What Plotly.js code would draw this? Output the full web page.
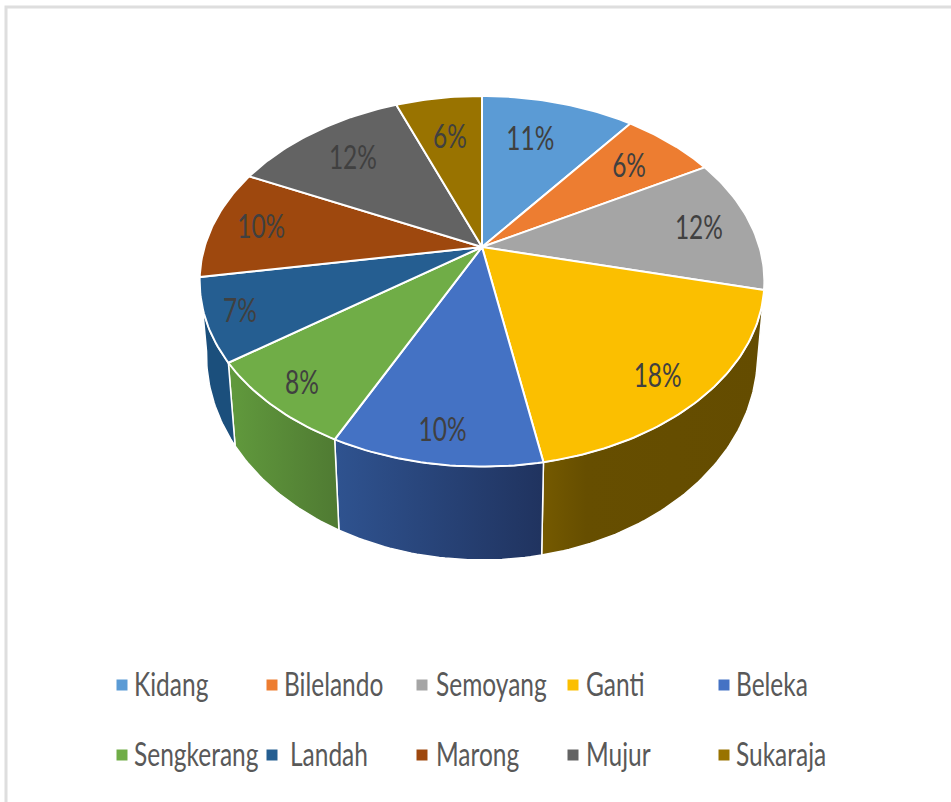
<!DOCTYPE html>
<html>
<head>
<meta charset="utf-8">
<script src="https://cdn.plot.ly/plotly-3.0.1.min.js"></script>
<style>html,body{margin:0;padding:0;background:#fff}#chart{width:951px;height:802px}</style>
</head>
<body>
<div id="chart"></div>
<script>
// Data
const categories = ["Kidang","Bilelando","Semoyang","Ganti","Beleka","Sengkerang","Landah","Marong","Mujur","Sukaraja"];
const values = [10.5,6.45,11.75,18.4,10.2,7.9,7.2,9.6,12.1,5.9];
// Styles
const colors = ["#5b9bd5","#ed7d31","#a5a5a5","#fbbf00","#4472c4","#70ad47","#255e91","#9e480e","#636363","#997300"];
const wallGradients = {
  3: [[0,"#755a00"],[0.2,"#664e00"],[1,"#644c00"]],
  4: [[0,"#2f5390"],[1,"#20335f"]],
  5: [[0,"#619a3d"],[1,"#4f7a32"]],
  6: [[0,"#1b4f7c"],[1,"#1b4f7c"]]
};
const labelRadius = [0.71,0.762,0.805,0.845,0.866,0.876,0.884,0.82,0.751,0.705];
const labelAngleShift = [-0.008,0,0,0.006,0,0,0,0,0,0];
const legendMarkerX = [122,272,422,573,724,122,272,422,573,724];
const legendTextX = [134,284,436,586,736,134,290,436,586,736];
const legendRowY = [685,755];
const fontFamily = "Lato, 'Open Sans', sans-serif";

// Perspective projection of the tilted disc
const topDisc = {cx:482, cy:247, R:277.5, S:179, k:0.185};
const baseDisc = {cx:482, cy:318, R:271, S:198.4, k:0.18};
function project(d, frac, r){
  const a = frac*2*Math.PI, u = r*Math.sin(a), v = -r*Math.cos(a), w = 1-d.k*v;
  return [d.cx + d.R*u/w, d.cy + d.S*v/w];
}
function arc(d, f0, f1){
  const n = Math.max(2, Math.ceil((f1-f0)*360));
  const pts = [];
  for(let i=0;i<=n;i++) pts.push(project(d, f0+(f1-f0)*i/n, 1));
  return pts;
}

const total = values.reduce((a,b)=>a+b,0);
let cum = 0;
const spans = values.map(v=>{const s=[cum/total,(cum+v)/total];cum+=v;return s;});
const traces = [];

// Outer walls
Object.keys(wallGradients).map(Number).forEach(i=>{
  const [f0,f1] = spans[i];
  const pts = arc(topDisc,f0,f1).concat(arc(baseDisc,f0,f1).reverse());
  pts.push(pts[0]);
  traces.push({type:"scatter",mode:"lines",x:pts.map(p=>p[0]),y:pts.map(p=>p[1]),
    fill:"toself",fillgradient:{type:"horizontal",colorscale:wallGradients[i]},
    line:{color:"#ffffff",width:1.5},hoverinfo:"skip",showlegend:false});
});

// Top slices
categories.forEach((c,i)=>{
  const [f0,f1] = spans[i];
  const pts = [[topDisc.cx,topDisc.cy]].concat(arc(topDisc,f0,f1));
  pts.push(pts[0]);
  traces.push({type:"scatter",mode:"lines",name:c,x:pts.map(p=>p[0]),y:pts.map(p=>p[1]),
    fill:"toself",fillcolor:colors[i],line:{color:"#ffffff",width:2},
    hoverinfo:"name",showlegend:false});
});

// Percent labels
const labelPts = spans.map((s,i)=>project(topDisc,(s[0]+s[1])/2+labelAngleShift[i],labelRadius[i]));
traces.push({type:"scatter",mode:"text",x:labelPts.map(p=>p[0]),y:labelPts.map(p=>p[1]),
  text:values.map(v=>Math.round(v/total*100)+"%"),textposition:"middle center",
  textfont:{family:fontFamily,size:24.5,color:"#404040"},
  hoverinfo:"skip",showlegend:false});

// Legend
const legendY = categories.map((c,i)=>legendRowY[i<5?0:1]);
traces.push({type:"scatter",mode:"markers",x:legendMarkerX,y:legendY,
  marker:{symbol:"square",size:11,color:colors,line:{width:0}},hoverinfo:"skip",showlegend:false});
traces.push({type:"scatter",mode:"text",x:legendTextX,y:legendY,text:categories,textposition:"middle right",
  textfont:{family:fontFamily,size:24.5,color:"#595959"},
  hoverinfo:"skip",showlegend:false});

const layout = {
  width:951,height:802,margin:{l:0,r:0,t:0,b:0},
  paper_bgcolor:"#ffffff",plot_bgcolor:"#ffffff",showlegend:false,
  xaxis:{range:[0,951],visible:false,fixedrange:true},
  yaxis:{range:[802,0],visible:false,fixedrange:true},
  shapes:[{type:"rect",xref:"x",yref:"y",x0:6,y0:7,x1:1200,y1:1200,line:{color:"#dedede",width:3},layer:"below"}]
};
Plotly.newPlot("chart",traces,layout,{displayModeBar:false}).then(gd=>{
  // The reference is a vertically stretched image: stretch its text the same way.
  gd.querySelectorAll(".textpoint text").forEach(t=>{
    t.style.transformBox="fill-box";
    t.style.transformOrigin="center";
    t.style.transform="translateY(2px) scaleY(1.33)";
  });
});
</script>
</body>
</html>
